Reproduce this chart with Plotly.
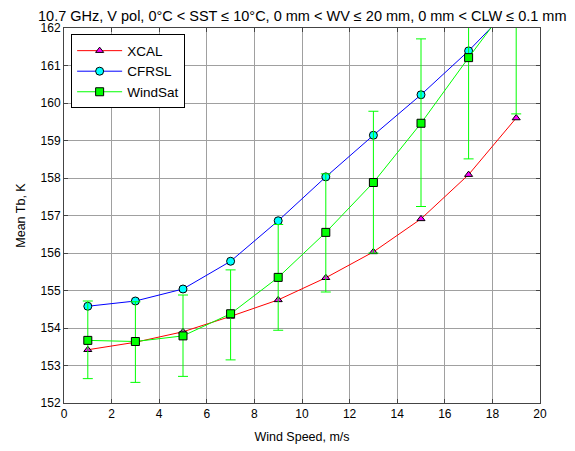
import plotly.graph_objects as go

wind = [1, 3, 5, 7, 9, 11, 13, 15, 17, 19]
xcal = [153.42, 153.62, 153.90, 154.31, 154.75, 155.34, 156.03, 156.91, 158.09, 159.60]
cfrsl = [154.58, 154.72, 155.04, 155.78, 156.86, 158.03, 159.14, 160.22, 161.39, 162.70]
windsat = [153.67, 153.64, 153.79, 154.38, 155.35, 156.55, 157.88, 159.46, 161.21, 162.90]
ws_upper = [154.72, 154.70, 154.88, 155.55, 156.76, 158.11, 159.78, 161.71, 163.90, 165.60]
ws_lower = [152.65, 152.55, 152.71, 153.15, 153.94, 154.96, 156.00, 157.24, 158.51, 159.71]

err_plus = [u - m for u, m in zip(ws_upper, windsat)]
err_minus = [m - l for m, l in zip(windsat, ws_lower)]

title_text = "10.7 GHz, V pol, 0\u00b0C < SST \u2264 10\u00b0C, 0 mm < WV \u2264 20 mm, 0 mm < CLW \u2264 0.1 mm"

fig = go.Figure()
fig.add_trace(go.Scatter(
    x=wind, y=xcal, name="XCAL", mode="lines+markers",
    line=dict(color="#ff0000", width=1),
    marker=dict(symbol="triangle-up", size=7, color="#ff00ff",
                line=dict(color="#000000", width=1)),
))
fig.add_trace(go.Scatter(
    x=wind, y=cfrsl, name="CFRSL", mode="lines+markers",
    line=dict(color="#0000ff", width=1),
    marker=dict(symbol="circle", size=8, color="#00ffff",
                line=dict(color="#000000", width=1)),
))
fig.add_trace(go.Scatter(
    x=wind, y=windsat, name="WindSat", mode="lines+markers",
    line=dict(color="#00ff00", width=1),
    marker=dict(symbol="square", size=8, color="#00ff00",
                line=dict(color="#000000", width=1)),
    error_y=dict(type="data", array=err_plus, arrayminus=err_minus,
                 color="#00ff00", thickness=1, width=5, visible=True),
))

axis_common = dict(
    showline=True, linecolor="#444444", linewidth=1, mirror="ticks",
    ticks="inside", ticklen=4, tickcolor="#444444",
    showgrid=True, gridcolor="#a0a0a0", gridwidth=1,
    zeroline=False, automargin=False,
    tickfont=dict(family="Liberation Sans, Arial", size=12, color="#000000"),
)

fig.update_layout(
    width=567, height=443,
    margin=dict(l=56, r=35, t=20, b=48),
    paper_bgcolor="#ffffff", plot_bgcolor="#ffffff",
    font=dict(family="Liberation Sans, Arial", size=12, color="#000000"),
    xaxis=dict(range=[0, 20], tickvals=list(range(0, 21, 2)),
               title=dict(text="Wind Speed, m/s", standoff=11, font=dict(size=12.5)),
               **axis_common),
    yaxis=dict(range=[152, 162], tickvals=list(range(152, 163)),
               title=dict(text="Mean Tb, K", standoff=12, font=dict(size=12.5)),
               **axis_common),
    legend=dict(x=0.015, y=0.983, xanchor="left", yanchor="top",
                bgcolor="#ffffff", bordercolor="#000000", borderwidth=1,
                font=dict(size=13.5), tracegroupgap=0, itemwidth=45),
    showlegend=True,
    annotations=[dict(text=title_text, xref="paper", yref="paper",
                      x=0.5, y=1.0, xanchor="center", yanchor="bottom",
                      yshift=3, showarrow=False, borderpad=0,
                      font=dict(size=14.5, color="#000000"))],
)

fig.write_html("out.html")
